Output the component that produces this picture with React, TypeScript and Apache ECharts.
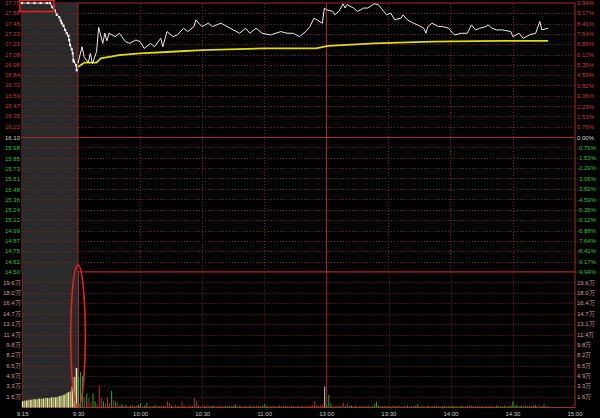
import React, { useEffect, useRef } from "react";
import * as echarts from "echarts";

// ---- axis ticks ----
const timeTickUnits = [0, 27, 57, 87, 117, 147, 177, 207, 237, 267];
const timeTickLabels = ["9:15", "9:30", "10:00", "10:30", "11:00", "13:00", "13:30", "14:00", "14:30", "15:00"];
const solidTimeUnits = [27, 147];
const dottedTimeUnits = [57, 87, 117, 177, 207, 237];
const openUnit = 27; // 9:30 position on the time scale
const closeUnit = 267;

const priceTickLabels = [
  "17.70", "17.58", "17.45", "17.33", "17.21", "17.08", "16.96", "16.84", "16.72", "16.59", "16.47", "16.35", "16.22",
  "16.10",
  "15.98", "15.85", "15.73", "15.61", "15.48", "15.36", "15.24", "15.12", "14.99", "14.87", "14.75", "14.62", "14.50",
];
const pctTickLabels = [
  "9.94%", "9.17%", "8.41%", "7.64%", "6.88%", "6.12%", "5.35%", "4.59%", "3.82%", "3.06%", "2.29%", "1.53%", "0.76%",
  "0.00%",
  "-0.76%", "-1.53%", "-2.29%", "-3.06%", "-3.82%", "-4.59%", "-5.35%", "-6.12%", "-6.88%", "-7.64%", "-8.41%", "-9.17%", "-9.94%",
];
const volTickLabels = ["1.6万", "3.3万", "4.9万", "6.5万", "8.2万", "9.8万", "11.4万", "13.1万", "14.7万", "16.4万", "18.0万", "19.6万"];
const prevClose = 16.1;
const priceMin = 14.5;
const priceMax = 17.7;
const volMax = 21.26;

// ---- pre-market (call auction) price ----
const preUnits = [0, 3, 6, 9, 12, 13.5, 14.6, 15.9, 16.8, 18.0, 18.7, 19.2, 20.0, 20.8, 21.6, 22.4, 22.8, 23.2, 24.0, 24.5, 24.8, 25.1, 26.1, 26.4];
const prePrices = [17.7, 17.7, 17.7, 17.7, 17.7, 17.7, 17.65, 17.61, 17.56, 17.53, 17.49, 17.46, 17.43, 17.38, 17.34, 17.31, 17.26, 17.2, 17.15, 17.1, 17.02, 17.0, 16.96, 16.9];

// ---- intraday price (minutes after 9:30, trading time) ----
const mainMinutes = [0, 2, 3, 5, 6, 7, 9, 10, 12, 13, 14, 15, 18, 20, 23, 25, 28, 30, 32, 35, 37, 40, 41, 43, 46, 48, 51, 53, 56, 57, 59, 60, 63, 65, 69, 72, 75, 78, 81, 83, 86, 89, 93, 98, 101, 104, 107, 110, 112, 114, 118, 119, 120, 123, 124, 126, 128, 129, 130, 133, 135, 138, 140, 143, 145, 147, 149, 151, 153, 156, 157, 159, 162, 164, 167, 168, 169, 171, 174, 176, 179, 181, 182, 185, 188, 190, 192, 194, 197, 198, 200, 202, 205, 209, 210, 213, 215, 218, 221, 223, 224, 227];
const mainPrices = [16.98, 17.18, 17.06, 16.99, 17.1, 16.98, 17.12, 17.41, 17.22, 17.34, 17.25, 17.34, 17.3, 17.34, 17.24, 17.22, 17.26, 17.24, 17.16, 17.22, 17.18, 17.28, 17.18, 17.36, 17.3, 17.32, 17.4, 17.36, 17.42, 17.5, 17.44, 17.42, 17.46, 17.42, 17.46, 17.42, 17.38, 17.34, 17.4, 17.34, 17.4, 17.34, 17.32, 17.36, 17.34, 17.34, 17.3, 17.36, 17.42, 17.52, 17.46, 17.64, 17.62, 17.6, 17.56, 17.6, 17.69, 17.64, 17.68, 17.64, 17.6, 17.64, 17.64, 17.69, 17.68, 17.62, 17.56, 17.58, 17.5, 17.52, 17.56, 17.5, 17.46, 17.44, 17.4, 17.34, 17.42, 17.46, 17.42, 17.42, 17.4, 17.34, 17.32, 17.34, 17.34, 17.44, 17.38, 17.4, 17.42, 17.44, 17.4, 17.38, 17.38, 17.36, 17.3, 17.34, 17.28, 17.32, 17.34, 17.48, 17.38, 17.4];

// ---- average price ----
const avgMinutes = [0, 3, 9, 11, 20, 30, 45, 60, 90, 115, 119, 121, 143, 171, 203, 227];
const avgPrices = [16.94, 16.99, 16.99, 17.04, 17.08, 17.1, 17.12, 17.14, 17.16, 17.16, 17.18, 17.19, 17.22, 17.24, 17.25, 17.25];

// ---- volume (万) ----
const preVolumes = [1.0, 1.1, 1.1, 1.2, 1.2, 1.3, 1.3, 1.3, 1.4, 1.4, 1.4, 1.5, 1.5, 1.5, 1.6, 1.6, 1.6, 1.7, 1.8, 1.9, 2.0, 2.2, 2.4, 2.5, 3.3, 4.8, 6.2];
const mainVolumes = [
  4.8, 5.6, 5.0, 1.6, 2.2, 1.5, 0.8, 2.2, 1.0, 0.6,
  3.4, 1.5, 1.0, 0.6, 1.5, 0.7, 2.6, 1.2, 1.0, 0.7,
  0.3, 0.5, 0.3, 0.4, 0.2, 0.3, 0.4, 0.2, 0.3, 0.4,
  0.7, 0.2, 0.3, 0.7, 0.2, 0.3, 0.2, 0.4, 0.3, 0.2,
  0.3, 0.2, 0.3, 1.0, 0.7, 0.3, 0.2, 0.4, 0.2, 0.3,
  1.0, 0.3, 0.2, 0.3, 0.4, 0.2, 1.5, 1.0, 0.3, 0.2,
  0.3, 0.2, 0.4, 0.3, 0.2, 0.3, 0.2, 0.3, 0.2, 0.3,
  0.2, 0.3, 0.2, 0.3, 0.2, 0.3, 0.5, 0.2, 0.3, 0.2,
  0.3, 0.2, 0.2, 0.3, 0.2, 0.2, 0.3, 0.2, 0.2, 0.3,
  0.5, 0.3, 0.2, 0.2, 0.3, 0.2, 0.2, 0.3, 0.2, 0.2,
  0.3, 0.2, 0.2, 0.3, 0.2, 0.2, 0.3, 0.2, 0.2, 0.3,
  0.2, 0.3, 0.2, 0.4, 1.0, 0.3, 0.2, 0.4, 0.5, 3.3,
  0.3, 2.0, 0.6, 0.3, 0.2, 0.3, 0.2, 0.3, 0.7, 0.2,
  0.6, 0.2, 0.3, 0.2, 0.3, 0.2, 0.2, 0.3, 0.2, 0.2,
  0.3, 0.2, 0.2, 0.5, 0.9, 0.3, 0.2, 0.2, 0.3, 0.2,
  0.2, 0.2, 0.3, 0.2, 0.2, 0.3, 0.2, 0.2, 0.2, 0.3,
  0.2, 0.2, 0.2, 0.3, 0.5, 0.2, 0.3, 0.2, 0.2, 0.3,
  0.2, 0.2, 0.2, 0.3, 0.2, 0.2, 0.2, 0.3, 0.2, 0.2,
  0.2, 0.3, 0.2, 0.2, 0.2, 0.3, 0.2, 0.2, 0.2, 0.3,
  0.3, 0.2, 0.2, 0.2, 0.3, 0.2, 0.2, 0.2, 0.3, 0.2,
  0.2, 0.2, 0.3, 0.2, 0.2, 0.2, 0.3, 0.2, 0.2, 0.3,
  1.0, 0.3, 0.4, 0.2, 0.3, 0.2, 0.3, 0.2, 0.3, 0.2,
  0.3, 0.4, 0.2, 0.3, 0.2, 0.5, 0.2, 0.3,
];
const mainVolDir =
  "gggrgrrggr" + "rrgrrrgrgr" + "ggrgrgrgrg" + "grggrrggrg" + "rgrrrgrrgr" +
  "rgrrrgrrgr" + "rgrrggrrgr" + "rggrgggrgr" + "rgrgrgrgrg" + "ggrgrgrgrg" +
  "rgrrgrgrgr" + "rrgrrrgrrw" + "gggrgrgrrg" + "rggrgrgrgr" + "grggggrgrg" +
  "grrggrgrgg" + "rgrgggrgrg" + "rggrgrggrg" + "ggrgrggrgr" + "rgrgrgrgrg" +
  "grggrggrgg" + "gggrgrggrg" + "ggrrgggr";

const FONT = "Liberation Sans";
const RED_TXT = "#d23a3a";
const GRN_TXT = "#2cc42c";
const GRAY_TXT = "#d4d4d4";
const VOL_TXT = "#d99a9a";
const BORDER = "#a82a2a";
const DOT = "#802222";

const priceTickValues = priceTickLabels.map((s) => parseFloat(s));
const pctTickValues = pctTickLabels.map((s) => parseFloat(s));
const volTickValues = volTickLabels.map((s) => parseFloat(s));

function pick(values: number[], labels: string[], v: number) {
  let best = 0;
  for (let i = 1; i < values.length; i++) if (Math.abs(values[i] - v) < Math.abs(values[best] - v)) best = i;
  return labels[best];
}

function dottedGuides(xi: number, yi: number, anchorY: number, data: any[]) {
  return {
    type: "line", xAxisIndex: xi, yAxisIndex: yi, data: [[0, anchorY]], symbol: "none",
    lineStyle: { opacity: 0 }, z: 2, silent: true,
    markLine: {
      silent: true, z: 2, symbol: ["none", "none"], label: { show: false },
      lineStyle: { color: DOT, type: [1, 2], width: 1, opacity: 1 },
      data,
    },
  };
}

function solidLine(xi: number, yi: number, pts: number[][]) {
  return {
    type: "line", xAxisIndex: xi, yAxisIndex: yi, data: pts, symbol: "none", silent: true, z: 3,
    lineStyle: { color: BORDER, width: 1, type: "solid" },
  };
}

export default function App() {
  const ref = useRef<HTMLDivElement>(null);
  useEffect(() => {
    if (!ref.current) return;
    const chart = echarts.init(ref.current, undefined, { renderer: "svg" });

    const priceDotted = [
      ...dottedTimeUnits.map((x) => ({ xAxis: x })),
      ...priceTickValues.filter((v) => v !== priceMax && v !== priceMin && v !== prevClose).map((v) => ({ yAxis: v })),
    ];
    const volDotted = [...dottedTimeUnits.map((x) => ({ xAxis: x })), ...volTickValues.map((v) => ({ yAxis: v }))];

    const labelBase = { fontSize: 6, fontFamily: FONT, hideOverlap: false, showMinLabel: true, showMaxLabel: true };
    const noAxisParts = { axisLine: { show: false }, axisTick: { show: false }, splitLine: { show: false } };

    const priceColor = (v: any) => {
      const n = Number(v);
      return n > prevClose + 0.005 ? RED_TXT : n < prevClose - 0.005 ? GRN_TXT : GRAY_TXT;
    };
    const pctColor = (v: any) => {
      const n = Number(v);
      return n > 0.001 ? RED_TXT : n < -0.001 ? GRN_TXT : GRAY_TXT;
    };

    const option: any = {
      animation: false,
      backgroundColor: "#000",
      grid: [
        { left: 22, right: 25, top: 3, height: 269, show: true, borderColor: BORDER, borderWidth: 1, backgroundColor: "#000" },
        { left: 22, right: 25, top: 272, height: 135.5, show: true, borderColor: BORDER, borderWidth: 1, backgroundColor: "#000" },
      ],
      xAxis: [
        { gridIndex: 0, type: "value", min: 0, max: closeUnit, show: false, ...noAxisParts, axisLabel: { show: false } },
        {
          gridIndex: 1, type: "value", min: 0, max: closeUnit, ...noAxisParts,
          axisLabel: {
            ...labelBase, customValues: timeTickUnits, color: "#c8c8c8", margin: 3,
            formatter: (v: number) => pick(timeTickUnits, timeTickLabels, v),
          },
        },
        { gridIndex: 1, type: "value", min: 0, max: closeUnit, show: false, ...noAxisParts, axisLabel: { show: false } },
      ],
      yAxis: [
        {
          gridIndex: 0, type: "value", min: priceMin, max: priceMax, position: "left", ...noAxisParts,
          axisLabel: {
            ...labelBase, customValues: priceTickValues, margin: 2, color: priceColor,
            formatter: (v: number) => pick(priceTickValues, priceTickLabels, v),
          },
        },
        {
          gridIndex: 0, type: "value", min: -9.94, max: 9.94, position: "right", ...noAxisParts,
          axisLabel: {
            ...labelBase, customValues: pctTickValues, margin: 2, color: pctColor,
            formatter: (v: number) => pick(pctTickValues, pctTickLabels, v),
          },
        },
        {
          gridIndex: 1, type: "value", min: 0, max: volMax, position: "left", ...noAxisParts,
          axisLabel: {
            ...labelBase, customValues: volTickValues, margin: 2, color: VOL_TXT,
            formatter: (v: number) => pick(volTickValues, volTickLabels, v),
          },
        },
        {
          gridIndex: 1, type: "value", min: 0, max: volMax, position: "right", ...noAxisParts,
          axisLabel: {
            ...labelBase, customValues: volTickValues, margin: 2, color: VOL_TXT,
            formatter: (v: number) => pick(volTickValues, volTickLabels, v),
          },
        },
      ],
      series: [
        {
          type: "line", xAxisIndex: 0, yAxisIndex: 0, data: [[0, prevClose]], symbol: "none",
          lineStyle: { opacity: 0 }, z: 1, silent: true,
          markArea: { silent: true, z: 1, itemStyle: { color: "#2a2a2a" }, data: [[{ xAxis: 0 }, { xAxis: openUnit }]] },
        },
        {
          type: "line", xAxisIndex: 1, yAxisIndex: 2, data: [[0, 0]], symbol: "none",
          lineStyle: { opacity: 0 }, z: 1, silent: true,
          markArea: { silent: true, z: 1, itemStyle: { color: "#2a2a2a" }, data: [[{ xAxis: 0 }, { xAxis: openUnit }]] },
        },
        dottedGuides(0, 0, prevClose, priceDotted),
        dottedGuides(1, 2, 0, volDotted),
        solidLine(0, 0, [[0, prevClose], [closeUnit, prevClose]]),
        ...solidTimeUnits.map((u) => solidLine(0, 0, [[u, priceMin], [u, priceMax]])),
        ...solidTimeUnits.map((u) => solidLine(1, 2, [[u, 0], [u, volMax]])),
        {
          type: "bar", xAxisIndex: 2, yAxisIndex: 2, barWidth: 1.6, z: 6,
          data: preVolumes.map((v, i) => [i, v]),
          itemStyle: { color: (p: any) => (p.dataIndex % 2 === 0 ? "#e9e9a4" : "#b4b46c") },
        },
        {
          type: "bar", xAxisIndex: 1, yAxisIndex: 2, barWidth: 1, z: 6,
          data: mainVolumes.map((v, i) => [openUnit + i, v]),
          itemStyle: {
            color: (p: any) => {
              const d = mainVolDir[p.dataIndex];
              return d === "r" ? "#b82c2c" : d === "g" ? "#22b422" : "#e0c8c8";
            },
          },
        },
        {
          type: "line", xAxisIndex: 0, yAxisIndex: 0, z: 8,
          data: preUnits.map((u, i) => [u, prePrices[i]]),
          symbol: "rect", symbolSize: 2.2, showSymbol: true,
          itemStyle: { color: "#f2f2f2" }, lineStyle: { color: "#f2f2f2", width: 1 },
        },
        {
          type: "line", xAxisIndex: 0, yAxisIndex: 0, z: 8, symbol: "none",
          data: avgMinutes.map((m, i) => [openUnit + m, avgPrices[i]]),
          lineStyle: { color: "#dede00", width: 1.8 },
        },
        {
          type: "line", xAxisIndex: 0, yAxisIndex: 0, z: 9, symbol: "none",
          data: mainMinutes.map((m, i) => [openUnit + m, mainPrices[i]]),
          lineStyle: { color: "#ececec", width: 1 },
        },
      ],
      graphic: [
        {
          type: "rect", z: 100, silent: true,
          shape: { x: 20, y: 0.5, width: 34, height: 11 },
          style: { fill: "none", stroke: "#e42222", lineWidth: 1.6 },
        },
        {
          type: "ellipse", z: 100, silent: true,
          shape: { cx: 78, cy: 336, rx: 7.3, ry: 71 },
          style: { fill: "none", stroke: "#e42222", lineWidth: 1.6 },
        },
      ],
    };

    chart.setOption(option);
    return () => chart.dispose();
  }, []);

  return (
    <div style={{ position: "fixed", left: 0, top: 0, width: 600, height: 418, background: "#000" }}>
      <div ref={ref} style={{ width: 600, height: 418 }} />
    </div>
  );
}
